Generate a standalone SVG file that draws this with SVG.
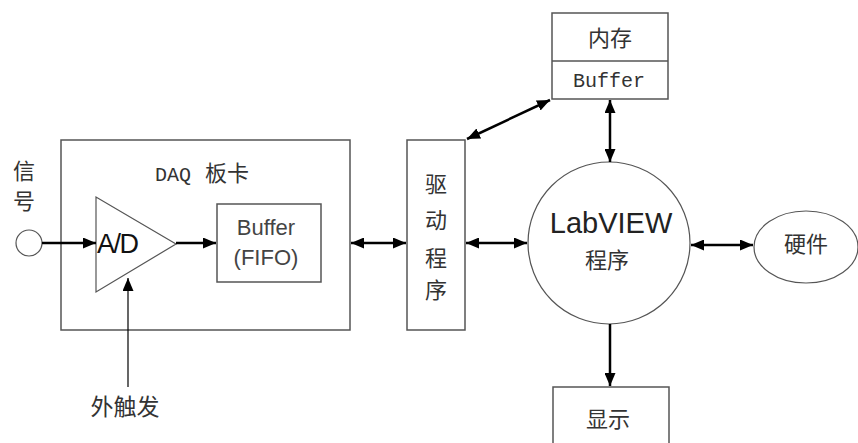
<svg xmlns="http://www.w3.org/2000/svg" width="858" height="443" viewBox="0 0 858 443">
<style>
.box{fill:#fff;stroke:#555;stroke-width:1.5}
.shape{fill:#fff;stroke:#555;stroke-width:1.2}
.cn{font-family:"Noto Sans CJK SC","Noto Sans",sans-serif;fill:#333}
.mono{font-family:"Liberation Mono",monospace;fill:#333}
.sans{font-family:"Liberation Sans",Arial,sans-serif;fill:#333}
.conn{stroke:#000;stroke-width:2.5;fill:none}
.thin{stroke:#000;stroke-width:1.2;fill:none}
</style>
<defs>
<marker id="ah" viewBox="0 0 13 11" refX="13" refY="5.5" markerWidth="13" markerHeight="11" markerUnits="userSpaceOnUse" orient="auto-start-reverse">
<path d="M0,0 L13,5.5 L0,11 z" fill="#000"/>
</marker>
</defs>
<rect width="858" height="443" fill="#fff"/>
<g id="daq">
<rect class="box" x="61" y="140" width="289" height="190"/>
<text class="mono" x="155" y="181" font-size="20">DAQ</text>
<text class="cn" x="227" y="181" font-size="22" text-anchor="middle">板卡</text>
</g>
<g id="signal">
<circle class="shape" cx="29" cy="243" r="13"/>
<text class="cn" x="24" y="179" font-size="22" text-anchor="middle">信</text>
<text class="cn" x="24" y="209" font-size="22" text-anchor="middle">号</text>
</g>
<g id="ad">
<polygon class="shape" points="96,197 96,292 176,244"/>
<text class="sans" x="97" y="253" font-size="27" style="fill:#111;letter-spacing:-1.5px">A/D</text>
</g>
<g id="fifo">
<rect class="box" x="217" y="204" width="104" height="78"/>
<text class="sans" x="266" y="235" font-size="22" text-anchor="middle" style="fill:#444">Buffer</text>
<text class="sans" x="266" y="265" font-size="22" text-anchor="middle" style="fill:#444">(FIFO)</text>
</g>
<g id="trigger">
<text class="cn" x="125" y="415" font-size="23" text-anchor="middle">外触发</text>
</g>
<g id="driver">
<rect class="box" x="407" y="140" width="58" height="190"/>
<text class="cn" x="436" y="192" font-size="22" text-anchor="middle">驱</text>
<text class="cn" x="436" y="228" font-size="22" text-anchor="middle">动</text>
<text class="cn" x="436" y="266" font-size="22" text-anchor="middle">程</text>
<text class="cn" x="436" y="298" font-size="22" text-anchor="middle">序</text>
</g>
<g id="memory">
<rect class="box" x="552" y="13" width="116" height="86"/>
<line x1="552" y1="61" x2="668" y2="61" stroke="#555" stroke-width="1.5"/>
<text class="cn" x="610" y="46" font-size="22" text-anchor="middle">内存</text>
<text class="mono" x="609" y="87" font-size="20" text-anchor="middle">Buffer</text>
</g>
<g id="labview">
<circle class="shape" cx="609" cy="243" r="81"/>
<text class="sans" x="611" y="233" font-size="29" text-anchor="middle" style="fill:#222">LabVIEW</text>
<text class="cn" x="607" y="268" font-size="22" text-anchor="middle">程序</text>
</g>
<g id="hardware">
<ellipse class="shape" cx="806" cy="247" rx="52" ry="36"/>
<text class="cn" x="806" y="252" font-size="22" text-anchor="middle">硬件</text>
</g>
<g id="display">
<rect class="box" x="553" y="387" width="116" height="70"/>
<text class="cn" x="608" y="427" font-size="22" text-anchor="middle">显示</text>
</g>
<g id="connectors">
<line class="conn" x1="42" y1="243" x2="96" y2="243" marker-end="url(#ah)"/>
<line class="conn" x1="176" y1="243" x2="216" y2="243" marker-end="url(#ah)"/>
<line class="thin" x1="128" y1="387" x2="128" y2="278" marker-end="url(#ah)"/>
<line class="conn" x1="351" y1="243" x2="406" y2="243" marker-start="url(#ah)" marker-end="url(#ah)"/>
<line class="conn" x1="466" y1="243" x2="527" y2="243" marker-start="url(#ah)" marker-end="url(#ah)"/>
<line class="conn" x1="691" y1="245" x2="753" y2="245" marker-start="url(#ah)" marker-end="url(#ah)"/>
<line class="conn" x1="610" y1="100" x2="610" y2="162" marker-start="url(#ah)" marker-end="url(#ah)"/>
<line class="conn" x1="467" y1="139" x2="550" y2="100" marker-start="url(#ah)" marker-end="url(#ah)"/>
<line class="conn" x1="610" y1="324" x2="610" y2="386" marker-end="url(#ah)"/>
</g>
</svg>
